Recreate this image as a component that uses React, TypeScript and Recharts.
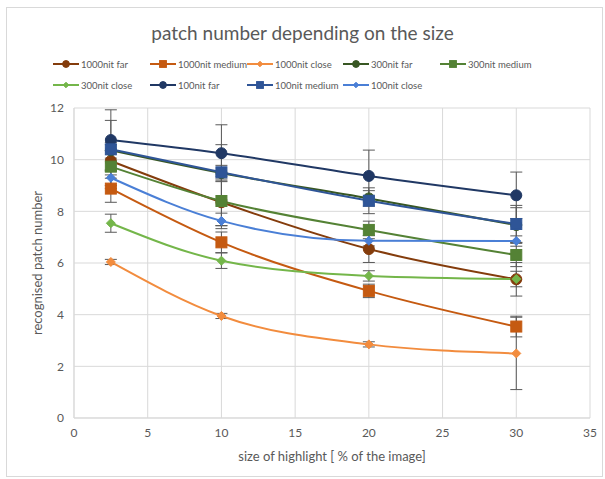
import React from 'react'
import { LineChart, Line, XAxis, YAxis, CartesianGrid, ErrorBar } from 'recharts'

const sizes = [2.5, 10, 20, 30]
const xTicks = [0, 5, 10, 15, 20, 25, 30, 35]
const yTicks = [0, 2, 4, 6, 8, 10, 12]

const seriesNames = [
  '1000nit far', '1000nit medium', '1000nit close',
  '300nit far', '300nit medium', '300nit close',
  '100nit far', '100nit medium', '100nit close',
]
const seriesColors = [
  '#843c0c', '#c55a11', '#f28c3e',
  '#385723', '#548235', '#74b64a',
  '#203864', '#2f5597', '#4a7fd6',
]
const seriesShapes = ['far', 'medium', 'close', 'far', 'medium', 'close', 'far', 'medium', 'close']

const nit1000Far = [9.95, 8.35, 6.54, 5.37]
const nit1000Medium = [8.88, 6.8, 4.92, 3.54]
const nit1000Close = [6.04, 3.95, 2.85, 2.5]
const nit300Far = [10.36, 9.48, 8.5, 7.47]
const nit300Medium = [9.73, 8.4, 7.28, 6.31]
const nit300Close = [7.54, 6.09, 5.5, 5.38]
const nit100Far = [10.76, 10.25, 9.37, 8.62]
const nit100Medium = [10.4, 9.51, 8.41, 7.51]
const nit100Close = [9.3, 7.63, 6.86, 6.85]

// symmetric error (std dev)
const err1000Far = [0.4, 0.9, 0.52, 0.65]
const err1000Medium = [0.53, 0.4, 0.26, 0.4]
const err1000Close = [0.1, 0.1, 0.1, 1.4]
const err300Far = [0.3, 0.3, 0.3, 0.67]
const err300Medium = [0.85, 0.96, 0.34, 0.45]
const err300Close = [0.35, 0.3, 0.2, 0.3]
const err100Far = [1.17, 1.1, 1.0, 0.9]
const err100Medium = [1.12, 1.07, 0.5, 0.72]
const err100Close = [0.3, 0.3, 0.2, 0.2]

const values = [nit1000Far, nit1000Medium, nit1000Close, nit300Far, nit300Medium, nit300Close, nit100Far, nit100Medium, nit100Close]
const errors = [err1000Far, err1000Medium, err1000Close, err300Far, err300Medium, err300Close, err100Far, err100Medium, err100Close]

const data = sizes.map((x, i) => {
  const row: Record<string, number> = { x }
  seriesNames.forEach((name, s) => {
    row[name] = values[s][i]
    row[name + '_err'] = errors[s][i]
  })
  return row
})

const FONT = 'Lato, "Open Sans", sans-serif'
const GREY = '#595959'

function Marker({ cx, cy, shape, color, k = 1 }: { cx: number; cy: number; shape: string; color: string; k?: number }) {
  const r = 5.5 * k
  if (shape === 'far') return <circle cx={cx} cy={cy} r={r} fill={color} stroke={color} />
  if (shape === 'medium') return <rect x={cx - r} y={cy - r} width={2 * r} height={2 * r} fill={color} stroke={color} />
  const d = 4.5 * k
  return <path d={`M${cx},${cy - d}L${cx + d},${cy}L${cx},${cy + d}L${cx - d},${cy}Z`} fill={color} stroke={color} />
}

function LegendBlock() {
  const cols = [53, 150, 247, 343, 440]
  return (
    <>
      {seriesNames.map((name, i) => {
        const row = i < 5 ? 0 : 1
        const col = i < 5 ? i : i - 5
        const top = row === 0 ? 57 : 78
        return (
          <div key={name} style={{ position: 'absolute', left: cols[col], top, display: 'flex', alignItems: 'center', height: 14 }}>
            <svg width={27} height={14}>
              <line x1={0} y1={7} x2={26} y2={7} stroke={seriesColors[i]} strokeWidth={2} />
              <Marker cx={13} cy={7} shape={seriesShapes[i]} color={seriesColors[i]} k={0.62} />
            </svg>
            <span style={{ fontFamily: FONT, fontSize: 9.5, color: GREY, marginLeft: 1 }}>{name}</span>
          </div>
        )
      })}
    </>
  )
}

export default function App() {
  return (
    <div style={{ position: 'absolute', left: 0, top: 0, width: 605, height: 479, background: '#fff' }}>
      <div style={{ position: 'absolute', left: 6, top: 7, width: 597, height: 470, border: '1px solid #d9d9d9', boxSizing: 'border-box' }} />
      <div style={{ position: 'absolute', left: 0, top: 21, width: 605, textAlign: 'center', fontFamily: FONT, fontSize: 19, color: GREY }}>
        patch number depending on the size
      </div>
      <LegendBlock />
      <div style={{ position: 'absolute', left: 0, top: 0 }}>
        <LineChart width={605} height={479} data={data} margin={{ top: 108, right: 15, bottom: 31, left: 0 }}>
          <CartesianGrid stroke="#d9d9d9" />
          <XAxis
            dataKey="x"
            type="number"
            domain={[0, 35]}
            ticks={xTicks}
            interval={0}
            height={30}
            tickLine={false}
            axisLine={{ stroke: '#d9d9d9' }}
            tick={{ fill: GREY, fontSize: 12, fontFamily: FONT }}
            tickMargin={4}
            label={{ value: 'size of highlight [ % of the image]', position: 'bottom', offset: 4, fill: GREY, fontSize: 13, fontFamily: FONT }}
          />
          <YAxis
            type="number"
            domain={[0, 12]}
            ticks={yTicks}
            interval={0}
            width={74}
            tickLine={false}
            axisLine={{ stroke: '#d9d9d9' }}
            tick={{ fill: GREY, fontSize: 12, fontFamily: FONT }}
            tickMargin={4}
            label={{ value: 'recognised patch number', angle: -90, position: 'center', fill: GREY, fontSize: 13, fontFamily: FONT }}
          />
          {seriesNames.map((name, i) => (
            <Line
              key={name}
              type="monotone"
              dataKey={name}
              stroke={seriesColors[i]}
              strokeWidth={2}
              isAnimationActive={false}
              dot={(p: any) => <Marker key={name + p.index} cx={p.cx} cy={p.cy} shape={seriesShapes[i]} color={seriesColors[i]} />}
              activeDot={false}
            >
              <ErrorBar dataKey={name + '_err'} direction="y" width={6} stroke="#595959" strokeWidth={1} />
            </Line>
          ))}
        </LineChart>
      </div>
    </div>
  )
}
